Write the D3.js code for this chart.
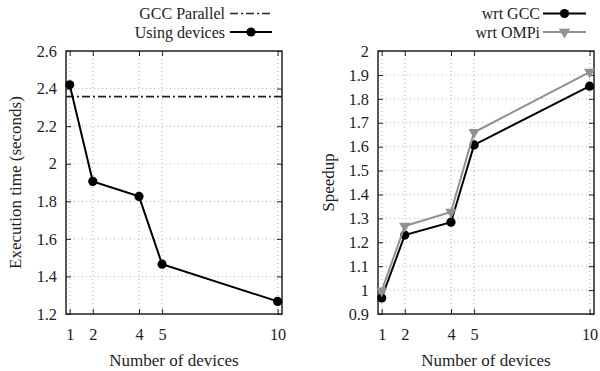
<!DOCTYPE html>
<html><head><meta charset="utf-8">
<script src="https://cdn.jsdelivr.net/npm/d3@7"></script>
<style>body{margin:0;background:#fff}svg{display:block}text{font-family:"Liberation Serif","Times New Roman",serif;fill:#222}</style>
</head><body><svg id="c" width="600" height="371"></svg>
<script>
const devices = [1, 2, 4, 5, 10];
const usingDevices = [2.42, 1.906, 1.826, 1.465, 1.267];
const gccParallel = 2.357;
const wrtGCC = [0.967, 1.23, 1.284, 1.607, 1.853];
const wrtOMPi = [0.997, 1.268, 1.327, 1.66, 1.912];
const leftYTicks = [1.2, 1.4, 1.6, 1.8, 2, 2.2, 2.4, 2.6];
const rightYTicks = [0.9, 1, 1.1, 1.2, 1.3, 1.4, 1.5, 1.6, 1.7, 1.8, 1.9, 2];
const xTicks = [1, 2, 4, 5, 10];

const svg = d3.select("#c");
const FS_TICK = 16.3, FS_TITLE = 17, FS_LEG = 16;

function panel(opts) {
  const {x0, x1, y0, y1, yDomain, yTicks, yLabel, labelX} = opts;
  const g = svg.append("g");
  const x = d3.scaleLinear().domain([0.84, 10.19]).range([x0, x1]);
  const y = d3.scaleLinear().domain(yDomain).range([y1, y0]);
  g.selectAll(".gy").data(yTicks).join("line")
    .attr("x1", x0).attr("x2", x1).attr("y1", d => y(d)).attr("y2", d => y(d))
    .attr("stroke", "#a0a0a0").attr("stroke-width", 0.8).attr("stroke-dasharray", "1,3");
  g.selectAll(".gx").data(xTicks).join("line")
    .attr("x1", d => x(d)).attr("x2", d => x(d)).attr("y1", y0).attr("y2", y1)
    .attr("stroke", "#a0a0a0").attr("stroke-width", 0.8).attr("stroke-dasharray", "1,3");
  const ax = g.append("g").attr("transform", `translate(0,${y1})`)
    .call(d3.axisBottom(x).tickValues(xTicks).tickSize(-5).tickPadding(14).tickFormat(d3.format("d")));
  const axT = g.append("g").attr("transform", `translate(0,${y0})`)
    .call(d3.axisTop(x).tickValues(xTicks).tickSize(-5).tickFormat(""));
  const ay = g.append("g").attr("transform", `translate(${x0},0)`)
    .call(d3.axisLeft(y).tickValues(yTicks).tickSize(-5).tickPadding(9).tickFormat(d => d3.format("")(+d.toFixed(1))));
  const ayR = g.append("g").attr("transform", `translate(${x1},0)`)
    .call(d3.axisRight(y).tickValues(yTicks).tickSize(-5).tickFormat(""));
  [ax, axT, ay, ayR].forEach(a => {
    a.attr("font-family", null);
    a.select(".domain").remove();
    a.selectAll(".tick line").attr("stroke", "#222").attr("stroke-width", 1);
    a.selectAll("text").attr("font-size", FS_TICK).attr("font-family", "Liberation Serif").attr("fill", "#222");
  });
  g.append("rect").attr("x", x0).attr("y", y0).attr("width", x1 - x0).attr("height", y1 - y0)
    .attr("fill", "none").attr("stroke", "#222").attr("stroke-width", 1.5);
  g.append("text").attr("x", (x0 + x1) / 2).attr("y", 366).attr("text-anchor", "middle")
    .attr("font-size", FS_TITLE).text("Number of devices");
  g.append("text").attr("transform", `translate(${labelX},${(y0 + y1) / 2}) rotate(-90)`)
    .attr("text-anchor", "middle").attr("dominant-baseline", "central")
    .attr("font-size", FS_TITLE).text(yLabel);
  return {g, x, y};
}

function series(p, vals, color, marker) {
  const pts = devices.map((d, i) => [d, vals[i]]);
  p.g.append("path").datum(pts)
    .attr("d", d3.line().x(d => p.x(d[0])).y(d => p.y(d[1])))
    .attr("fill", "none").attr("stroke", color).attr("stroke-width", 2);
  drawMarkers(p.g, pts.map(d => [p.x(d[0]), p.y(d[1])]), color, marker);
}
function drawMarkers(g, pts, color, marker) {
  if (marker === "circle") {
    g.selectAll(null).data(pts).join("circle").attr("cx", d => d[0]).attr("cy", d => d[1])
      .attr("r", 4.6).attr("fill", color);
  } else {
    const sym = d3.symbol().type(d3.symbolTriangle).size(55);
    g.selectAll(null).data(pts).join("path").attr("d", sym)
      .attr("transform", d => `translate(${d[0]},${d[1]}) rotate(180)`).attr("fill", color);
  }
}

const L = panel({x0: 66, x1: 282, y0: 51, y1: 314, yDomain: [1.2, 2.6], yTicks: leftYTicks,
  yLabel: "Execution time (seconds)", labelX: 15});
L.g.append("line").attr("x1", 66).attr("x2", 282).attr("y1", L.y(gccParallel)).attr("y2", L.y(gccParallel))
  .attr("stroke", "#222").attr("stroke-width", 1.6).attr("stroke-dasharray", "8,3,2,3");
series(L, usingDevices, "#000", "circle");

const R = panel({x0: 378, x1: 594, y0: 51, y1: 314, yDomain: [0.9, 2], yTicks: rightYTicks,
  yLabel: "Speedup", labelX: 328});
series(R, wrtGCC, "#000", "circle");
series(R, wrtOMPi, "#909090", "triangle");

function legend(items, textRight, lx0, lx1) {
  items.forEach((it, i) => {
    const yy = 13.5 + i * 18.5;
    svg.append("text").attr("x", textRight).attr("y", yy).attr("text-anchor", "end")
      .attr("dominant-baseline", "central").attr("font-size", FS_LEG).text(it.label);
    const ln = svg.append("line").attr("x1", lx0).attr("x2", lx1).attr("y1", yy).attr("y2", yy)
      .attr("stroke", it.color).attr("stroke-width", it.dash ? 1.6 : 2);
    if (it.dash) ln.attr("stroke-dasharray", it.dash);
    if (it.marker) drawMarkers(svg, [[(lx0 + lx1) / 2, yy]], it.color, it.marker);
  });
}
legend([{label: "GCC Parallel", color: "#222", dash: "8,3,2,3"},
        {label: "Using devices", color: "#000", marker: "circle"}], 225, 230, 272);
legend([{label: "wrt GCC", color: "#000", marker: "circle"},
        {label: "wrt OMPi", color: "#909090", marker: "triangle"}], 540, 543, 586);
</script></body></html>
